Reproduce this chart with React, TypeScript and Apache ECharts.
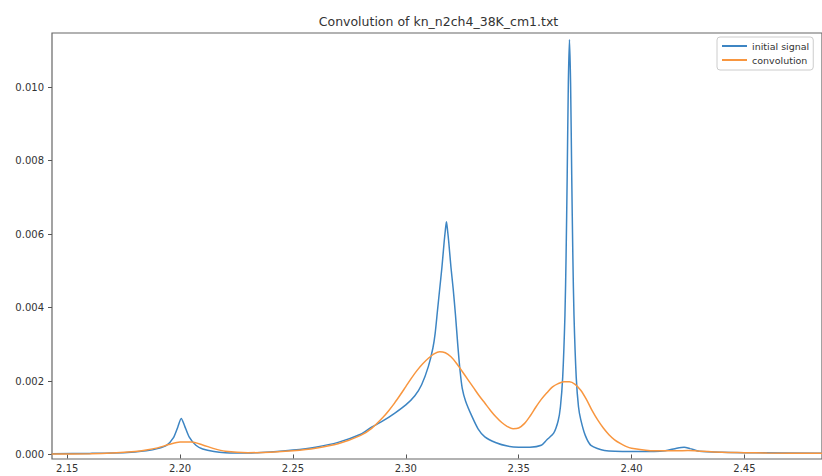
import React, { useEffect, useRef } from "react";
import * as echarts from "echarts";

const chartTitle = "Convolution of kn_n2ch4_38K_cm1.txt";
const seriesNames = ["initial signal", "convolution"];

const xTicks = [2.15, 2.2, 2.25, 2.3, 2.35, 2.4, 2.45];
const yTicks = [0, 0.002, 0.004, 0.006, 0.008, 0.01];

const signalX = [2.143, 2.16, 2.17, 2.18, 2.185, 2.19, 2.194, 2.197, 2.199, 2.2005, 2.202, 2.204, 2.207, 2.21, 2.215, 2.22, 2.23, 2.24, 2.25, 2.26, 2.27, 2.28, 2.285, 2.29, 2.295, 2.3, 2.304, 2.307, 2.31, 2.312, 2.313, 2.314, 2.315, 2.316, 2.317, 2.3175, 2.318, 2.3185, 2.319, 2.32, 2.321, 2.322, 2.323, 2.324, 2.325, 2.3265, 2.3292, 2.332, 2.335, 2.34, 2.345, 2.35, 2.355, 2.36, 2.3625, 2.3655, 2.3675, 2.3685, 2.3695, 2.3705, 2.371, 2.3715, 2.372, 2.3725, 2.373, 2.3735, 2.374, 2.3745, 2.3755, 2.3765, 2.3775, 2.3795, 2.382, 2.388, 2.4, 2.41, 2.415, 2.42, 2.4233, 2.426, 2.43, 2.44, 2.45, 2.486];
const signalY = [0.00002, 0.00003, 0.00004, 0.00007, 0.0001, 0.00016, 0.00025, 0.00045, 0.00075, 0.00098, 0.00078, 0.00048, 0.00025, 0.00015, 0.00008, 0.00005, 0.00004, 0.00007, 0.00012, 0.0002, 0.00033, 0.00055, 0.00075, 0.00092, 0.00112, 0.00135, 0.0016, 0.0019, 0.0024, 0.0029, 0.0033, 0.0039, 0.0045, 0.0051, 0.0058, 0.0061, 0.00634, 0.0061, 0.0058, 0.0051, 0.0045, 0.0038, 0.003, 0.0023, 0.0018, 0.00145, 0.00105, 0.0007, 0.00048, 0.00032, 0.00023, 0.0002, 0.0002, 0.00025, 0.0004, 0.00058, 0.00092, 0.0013, 0.0021, 0.0038, 0.0054, 0.0076, 0.0101, 0.0113, 0.0101, 0.0076, 0.0054, 0.0038, 0.0021, 0.0013, 0.00095, 0.00052, 0.00025, 0.00011, 0.00008, 0.00008, 0.0001, 0.00017, 0.0002, 0.00016, 0.00009, 0.00006, 0.00005, 0.00003];

const convX = [2.143, 2.16, 2.17, 2.18, 2.185, 2.19, 2.195, 2.2, 2.205, 2.21, 2.215, 2.22, 2.23, 2.24, 2.25, 2.26, 2.27, 2.28, 2.285, 2.29, 2.2925, 2.295, 2.2975, 2.3, 2.3025, 2.305, 2.3075, 2.31, 2.3125, 2.315, 2.3175, 2.32, 2.3225, 2.325, 2.3275, 2.33, 2.3325, 2.335, 2.3375, 2.34, 2.3425, 2.345, 2.3475, 2.35, 2.3525, 2.355, 2.3575, 2.36, 2.3625, 2.365, 2.3675, 2.37, 2.3725, 2.375, 2.3775, 2.38, 2.3825, 2.385, 2.3875, 2.39, 2.3925, 2.395, 2.3975, 2.4, 2.41, 2.42, 2.425, 2.43, 2.44, 2.45, 2.46, 2.486];
const convY = [0.00001, 0.00002, 0.00004, 0.00008, 0.00012, 0.00018, 0.00027, 0.00034, 0.00034, 0.00026, 0.00016, 0.00009, 0.00005, 0.00006, 0.0001, 0.00017, 0.00029, 0.00052, 0.00072, 0.00102, 0.0012, 0.0014, 0.00162, 0.00185, 0.00208, 0.00229, 0.00247, 0.00262, 0.00274, 0.0028, 0.00277, 0.00266, 0.00248, 0.00226, 0.00204, 0.00182, 0.0016, 0.0014, 0.0012, 0.00102, 0.00087, 0.00076, 0.0007, 0.00072, 0.00084, 0.00104, 0.00128, 0.0015, 0.00168, 0.00184, 0.00193, 0.00198, 0.00198, 0.00191, 0.00175, 0.0015, 0.0012, 0.00094, 0.00072, 0.00054, 0.0004, 0.0003, 0.00022, 0.00017, 0.0001, 0.0001, 0.00011, 0.00009, 0.00006, 0.00005, 0.00004, 0.00003];

const FONT = "DejaVu Sans";

export default function App() {
  const ref = useRef<HTMLDivElement>(null);
  useEffect(() => {
    if (!ref.current) return;
    const chart = echarts.init(ref.current, undefined, { renderer: "svg" });
    const pairs = (xs: number[], ys: number[]) => xs.map((x, i) => [x, ys[i]]);
    chart.setOption({
      animation: false,
      backgroundColor: "#ffffff",
      graphic: [
        {
          type: "text",
          x: 438.5,
          y: 21,
          style: {
            text: chartTitle,
            fontSize: 12.5,
            fontFamily: FONT,
            fill: "#333",
            align: "center",
            verticalAlign: "middle",
          },
        },
      ],
      grid: {
        left: 52,
        right: -3,
        top: 33,
        bottom: 17,
        show: true,
        borderColor: "#666",
        borderWidth: 1.2,
        containLabel: false,
      },
      legend: {
        orient: "vertical",
        left: 717,
        top: 37,
        padding: [4, 4, 5, 5],
        itemGap: 4,
        itemWidth: 25,
        itemHeight: 2,
        icon: "rect",
        borderColor: "#ccc",
        borderWidth: 1,
        borderRadius: 3,
        backgroundColor: "#fff",
        data: seriesNames,
        textStyle: { fontSize: 9.5, fontFamily: FONT, color: "#333" },
      },
      xAxis: {
        type: "value",
        min: 2.14325,
        max: 2.48438,
        axisLine: { show: false },
        splitLine: { show: false },
        axisTick: { show: true, length: 4, lineStyle: { color: "#555" }, customValues: xTicks },
        axisLabel: {
          customValues: xTicks,
          formatter: (v: number) => v.toFixed(2),
          fontSize: 10,
          fontFamily: FONT,
          color: "#333",
          margin: 4,
        },
      },
      yAxis: {
        type: "value",
        min: -0.000123,
        max: 0.011479,
        axisLine: { show: false },
        splitLine: { show: false },
        axisTick: { show: true, length: 4, lineStyle: { color: "#555" }, customValues: yTicks },
        axisLabel: {
          customValues: yTicks,
          formatter: (v: number) => v.toFixed(3),
          fontSize: 10,
          fontFamily: FONT,
          color: "#333",
          margin: 8,
        },
      },
      series: [
        {
          name: seriesNames[0],
          type: "line",
          data: pairs(signalX, signalY),
          showSymbol: false,
          smooth: 0.25,
          lineStyle: { color: "#3d85c3", width: 1.5 },
          itemStyle: { color: "#3d85c3" },
        },
        {
          name: seriesNames[1],
          type: "line",
          data: pairs(convX, convY),
          showSymbol: false,
          smooth: 0.3,
          lineStyle: { color: "#f8963f", width: 1.5 },
          itemStyle: { color: "#f8963f" },
        },
      ],
    });
    return () => chart.dispose();
  }, []);
  return (
    <div
      ref={ref}
      style={{ position: "absolute", left: 0, top: 0, width: 822, height: 476, background: "#fff" }}
    />
  );
}
